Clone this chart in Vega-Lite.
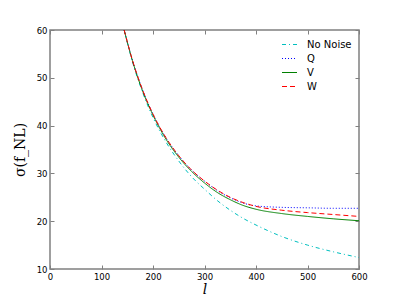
{
  "$schema": "https://vega.github.io/schema/vega-lite/v6.json",
  "width": 309,
  "height": 239,
  "autosize": "none",
  "padding": {"left": 50, "top": 30, "right": 41, "bottom": 31},
  "config": {
    "font": "DejaVu Sans",
    "view": {"stroke": "#808080", "strokeWidth": 1.5},
    "axis": {"domain": false, "grid": false, "labelFlush": false, "tickColor": "#808080", "tickSize": -4, "labelColor": "#000000", "labelFontSize": 8.5, "labelFont": "DejaVu Sans", "labelPadding": 7}
  },
  "data": {
    "values": [
      {"l": 144, "sigma": 60, "series": "No Noise"},
      {"l": 160, "sigma": 53.4, "series": "No Noise"},
      {"l": 180, "sigma": 46.9, "series": "No Noise"},
      {"l": 200, "sigma": 41.7, "series": "No Noise"},
      {"l": 225, "sigma": 36.6, "series": "No Noise"},
      {"l": 250, "sigma": 32.6, "series": "No Noise"},
      {"l": 275, "sigma": 29.3, "series": "No Noise"},
      {"l": 300, "sigma": 26.7, "series": "No Noise"},
      {"l": 325, "sigma": 24.3, "series": "No Noise"},
      {"l": 350, "sigma": 22.3, "series": "No Noise"},
      {"l": 375, "sigma": 20.6, "series": "No Noise"},
      {"l": 400, "sigma": 19.2, "series": "No Noise"},
      {"l": 450, "sigma": 16.8, "series": "No Noise"},
      {"l": 500, "sigma": 15.0, "series": "No Noise"},
      {"l": 550, "sigma": 13.6, "series": "No Noise"},
      {"l": 600, "sigma": 12.4, "series": "No Noise"},
      {"l": 144, "sigma": 60, "series": "Q"},
      {"l": 160, "sigma": 53.7, "series": "Q"},
      {"l": 180, "sigma": 47.4, "series": "Q"},
      {"l": 200, "sigma": 42.4, "series": "Q"},
      {"l": 225, "sigma": 37.5, "series": "Q"},
      {"l": 250, "sigma": 33.7, "series": "Q"},
      {"l": 275, "sigma": 30.7, "series": "Q"},
      {"l": 300, "sigma": 28.4, "series": "Q"},
      {"l": 325, "sigma": 26.4, "series": "Q"},
      {"l": 350, "sigma": 24.9, "series": "Q"},
      {"l": 375, "sigma": 23.8, "series": "Q"},
      {"l": 400, "sigma": 23.2, "series": "Q"},
      {"l": 450, "sigma": 22.9, "series": "Q"},
      {"l": 500, "sigma": 22.8, "series": "Q"},
      {"l": 550, "sigma": 22.7, "series": "Q"},
      {"l": 600, "sigma": 22.7, "series": "Q"},
      {"l": 144, "sigma": 60, "series": "V"},
      {"l": 160, "sigma": 53.6, "series": "V"},
      {"l": 180, "sigma": 47.2, "series": "V"},
      {"l": 200, "sigma": 42.2, "series": "V"},
      {"l": 225, "sigma": 37.2, "series": "V"},
      {"l": 250, "sigma": 33.4, "series": "V"},
      {"l": 275, "sigma": 30.4, "series": "V"},
      {"l": 300, "sigma": 28.0, "series": "V"},
      {"l": 325, "sigma": 26.0, "series": "V"},
      {"l": 350, "sigma": 24.5, "series": "V"},
      {"l": 375, "sigma": 23.3, "series": "V"},
      {"l": 400, "sigma": 22.5, "series": "V"},
      {"l": 450, "sigma": 21.6, "series": "V"},
      {"l": 500, "sigma": 21.0, "series": "V"},
      {"l": 550, "sigma": 20.5, "series": "V"},
      {"l": 600, "sigma": 20.1, "series": "V"},
      {"l": 144, "sigma": 60, "series": "W"},
      {"l": 160, "sigma": 53.7, "series": "W"},
      {"l": 180, "sigma": 47.4, "series": "W"},
      {"l": 200, "sigma": 42.4, "series": "W"},
      {"l": 225, "sigma": 37.5, "series": "W"},
      {"l": 250, "sigma": 33.7, "series": "W"},
      {"l": 275, "sigma": 30.7, "series": "W"},
      {"l": 300, "sigma": 28.4, "series": "W"},
      {"l": 325, "sigma": 26.5, "series": "W"},
      {"l": 350, "sigma": 25.0, "series": "W"},
      {"l": 375, "sigma": 23.9, "series": "W"},
      {"l": 400, "sigma": 23.1, "series": "W"},
      {"l": 450, "sigma": 22.3, "series": "W"},
      {"l": 500, "sigma": 21.8, "series": "W"},
      {"l": 550, "sigma": 21.4, "series": "W"},
      {"l": 600, "sigma": 21.0, "series": "W"}
    ]
  },
  "layer": [
    {
      "mark": {"type": "line", "clip": true, "strokeWidth": 1, "interpolate": "monotone"},
      "encoding": {
        "x": {"field": "l", "type": "quantitative", "scale": {"domain": [0, 600], "nice": false},
              "axis": {"values": [0, 100, 200, 300, 400, 500, 600], "title": "l", "titleFont": "DejaVu Serif", "titleFontStyle": "italic", "titleFontWeight": "normal", "titleFontSize": 14, "titlePadding": 2}},
        "y": {"field": "sigma", "type": "quantitative", "scale": {"domain": [10, 60], "nice": false, "zero": false},
              "axis": {"values": [10, 20, 30, 40, 50, 60], "title": "σ(f_NL)", "titleFont": "DejaVu Serif", "titleFontWeight": "normal", "titleFontSize": 14, "titlePadding": 9}},
        "color": {"field": "series", "type": "nominal",
                  "scale": {"domain": ["No Noise", "Q", "V", "W"], "range": ["#00BFBF", "#0000FF", "#008000", "#FF0000"]},
                  "legend": {"title": null, "orient": "none", "legendX": 231, "legendY": 6, "symbolType": "stroke", "symbolSize": 225, "symbolStrokeWidth": 1.2, "labelFontSize": 10, "labelFont": "DejaVu Sans", "labelColor": "#000000", "labelOffset": 9, "rowPadding": 0}},
        "strokeDash": {"field": "series", "type": "nominal",
                       "scale": {"domain": ["No Noise", "Q", "V", "W"], "range": [[4, 3, 1, 3], [1, 2], [1, 0], [5, 3]]},
                       "legend": null}
      }
    },
    {
      "mark": {"type": "point", "opacity": 0},
      "encoding": {
        "x": {"field": "l", "type": "quantitative", "scale": {"domain": [0, 600], "nice": false},
              "axis": {"orient": "top", "values": [0, 100, 200, 300, 400, 500, 600], "labels": false, "title": null}},
        "y": {"field": "sigma", "type": "quantitative", "scale": {"domain": [10, 60], "nice": false, "zero": false},
              "axis": {"orient": "right", "values": [10, 20, 30, 40, 50, 60], "labels": false, "title": null}}
      }
    }
  ],
  "resolve": {"axis": {"x": "independent", "y": "independent"}}
}
